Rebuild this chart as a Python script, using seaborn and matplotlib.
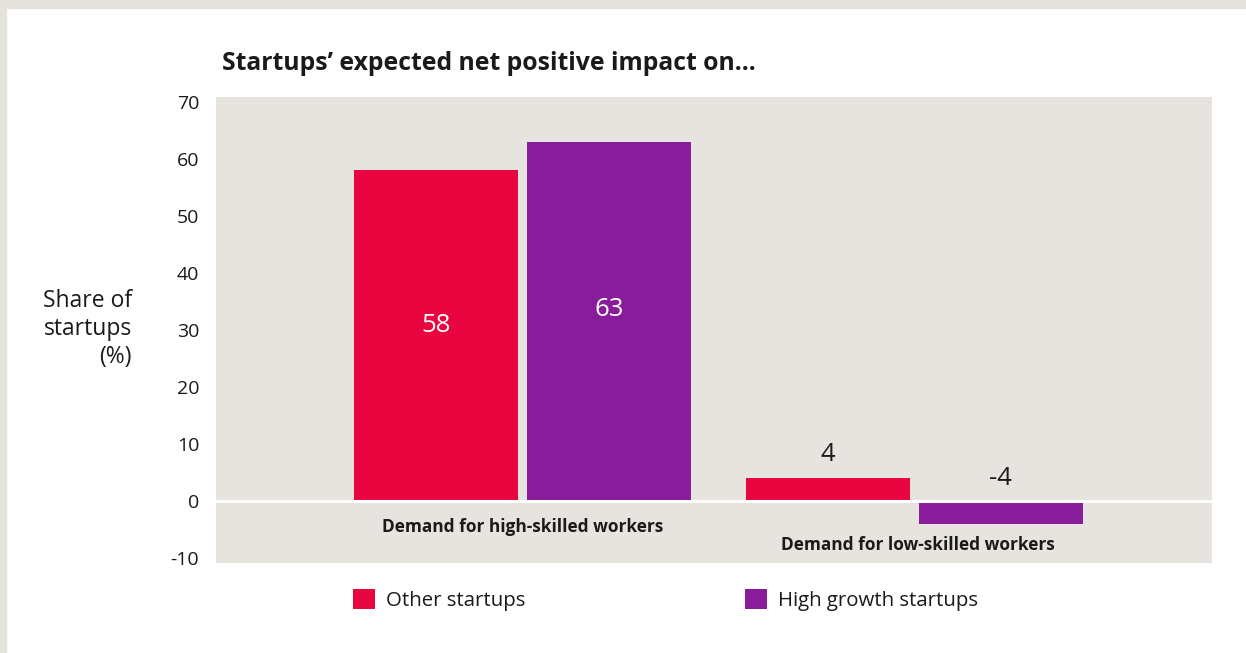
import pandas as pd
import matplotlib.pyplot as plt
import seaborn as sns
from matplotlib.patches import Rectangle

# data
categories = ["Demand for high-skilled workers", "Demand for low-skilled workers"]
groups = ["Other startups", "High growth startups"]
other_values = [58, 4]
high_growth_values = [63, -4]
y_ticks = [-10, 0, 10, 20, 30, 40, 50, 60, 70]

red = "#E9053F"
purple = "#891C9A"
panel = "#E7E3DF"
ink = "#1A1A1A"

df = pd.DataFrame({
    "category": categories * 2,
    "group": [groups[0]] * 2 + [groups[1]] * 2,
    "value": other_values + high_growth_values,
})

sns.set_style("white")
plt.rcParams["font.family"] = ["Open Sans", "DejaVu Sans"]

fig = plt.figure(figsize=(12.46, 6.53), dpi=100)
fig.patch.set_facecolor("white")
ax = fig.add_axes([216 / 1246, 1 - 563 / 653, 996 / 1246, 466 / 653])
ax.set_facecolor(panel)

sns.barplot(data=df, x="category", y="value", hue="group", hue_order=groups,
            palette=[red, purple], saturation=1, width=0.884, gap=0.052,
            linewidth=0, ax=ax, zorder=2)

ax.set_xlim(-0.783, 1.761)
ax.set_ylim(-10.9, 70.9)
ax.set_yticks(y_ticks)
ax.set_yticklabels([str(t) for t in y_ticks], fontsize=14, color=ink)
ax.tick_params(axis="y", length=0, pad=12)
ax.set_xticks([])
ax.set_xlabel("")
ax.set_ylabel("")
for s in ax.spines.values():
    s.set_visible(False)

ax.axhline(0, color="white", lw=2.2, zorder=3)

# value labels
offsets = [-0.221, 0.221]
for gi, vals in enumerate([other_values, high_growth_values]):
    for ci, v in enumerate(vals):
        x = ci + offsets[gi]
        if abs(v) > 20:
            ax.text(x, v * 0.54 - 0.5, str(v), ha="center", va="center",
                    color="white", fontsize=18.5, zorder=4)
        else:
            y = v + 4.1 if v > 0 else 3.9
            ax.text(x, y, str(v), ha="center", va="center",
                    color=ink, fontsize=18.5, zorder=4)

# category labels inside the panel
ax.text(0, -4.6, categories[0], ha="center", va="center", fontsize=12.4,
        fontweight="bold", color=ink)
ax.text(1.01, -7.7, categories[1], ha="center", va="center", fontsize=12.4,
        fontweight="bold", color=ink)

# legend as two separate entries
handles, labels = ax.get_legend_handles_labels()
ax.get_legend().remove()
for h, l, x0 in zip(handles, labels, [353, 745]):
    fig.legend([h], [l], loc="center left",
               bbox_to_anchor=(x0 / 1246, 1 - 600 / 653), frameon=False,
               borderpad=0, borderaxespad=0, handlelength=1.1,
               handleheight=1.1, handletextpad=0.5, fontsize=14.7,
               labelcolor=ink)

fig.text(222 / 1246, 1 - 63 / 653, "Startups\u2019 expected net positive impact on...",
         ha="left", va="center", fontsize=17.8, fontweight="bold", color=ink)
fig.text(132 / 1246, 1 - 329 / 653, "Share of\nstartups\n(%)", ha="right",
         va="center", multialignment="right", fontsize=16.5, linespacing=1.22,
         color=ink)

# grey frame at top and left
fig.patches.append(Rectangle((0, 1 - 8 / 653), 1, 8 / 653, transform=fig.transFigure,
                             color="#E5E2DE", zorder=0))
fig.patches.append(Rectangle((0, 0), 6 / 1246, 1, transform=fig.transFigure,
                             color="#E5E2DE", zorder=0))

fig.savefig("out.png", dpi=100, facecolor="white")
